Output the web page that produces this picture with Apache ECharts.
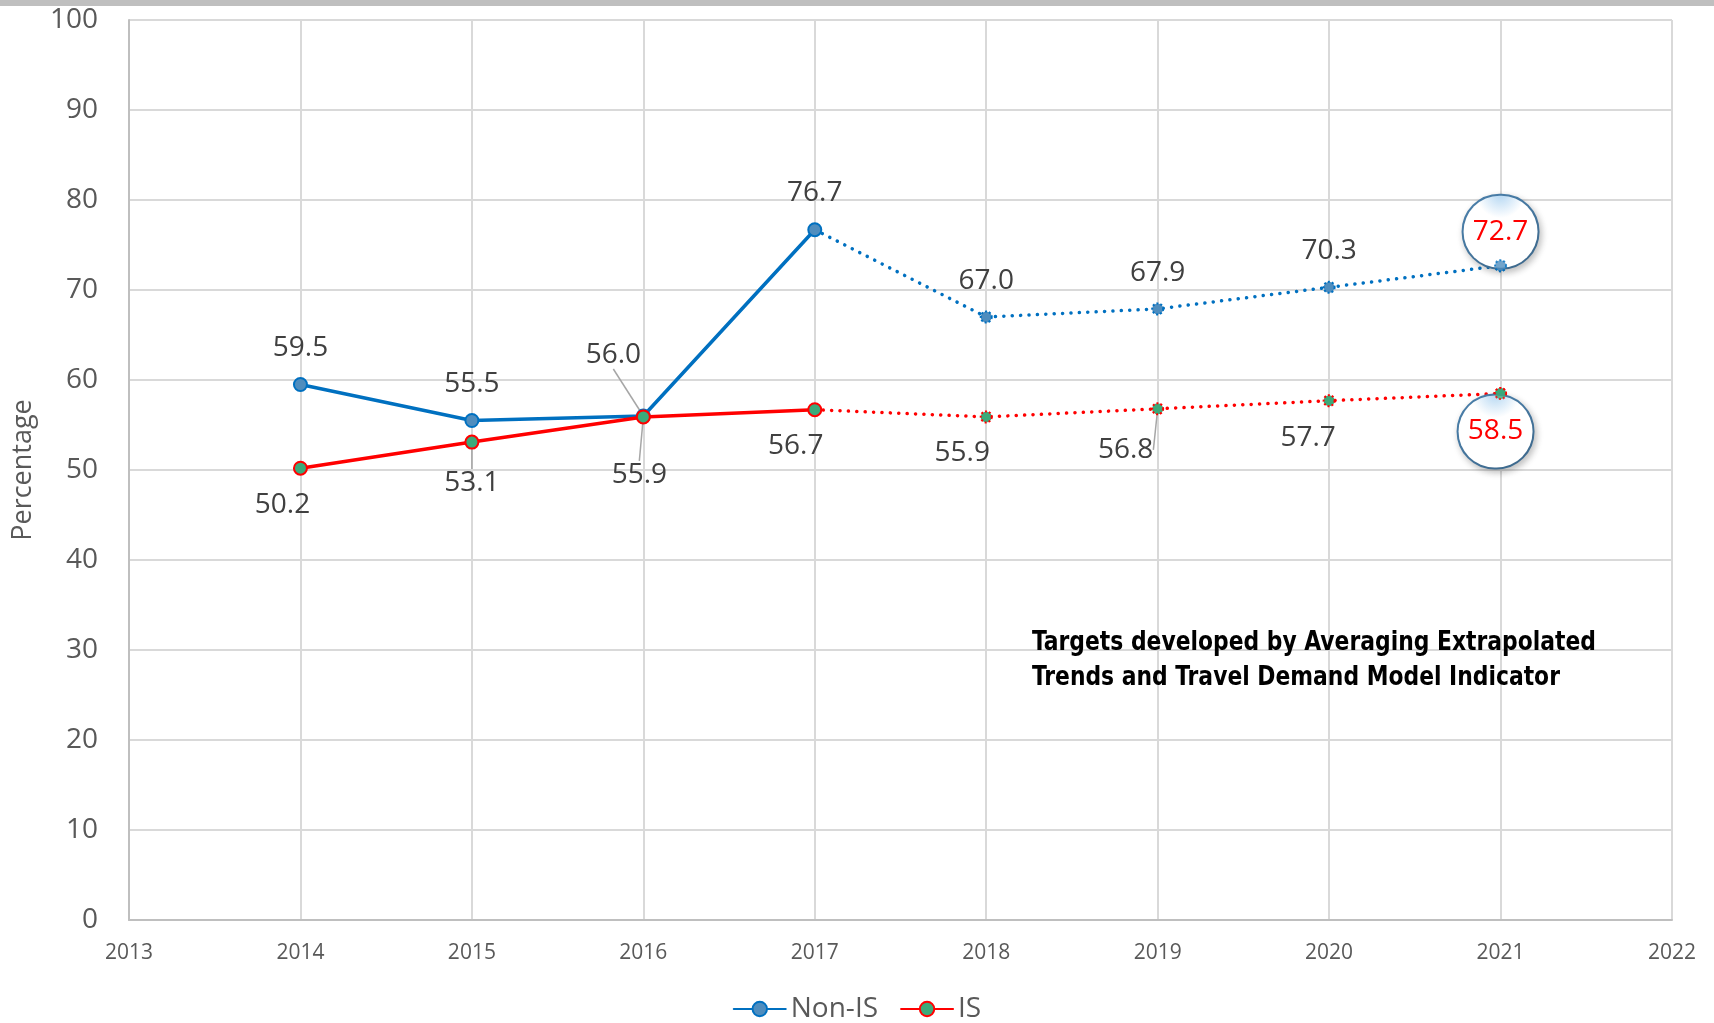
<!DOCTYPE html>
<html><head><meta charset="utf-8">
<script src="https://cdn.jsdelivr.net/npm/echarts@6/dist/echarts.min.js"></script>
<style>html,body{margin:0;padding:0;background:#fff}#c{width:1714px;height:1023px}</style>
</head><body><div id="c"></div>
<script>
// ---- data ----
const years = [2014, 2015, 2016, 2017, 2018, 2019, 2020, 2021];
const nonIS = [59.5, 55.5, 56.0, 76.7, 67.0, 67.9, 70.3, 72.7];
const isVals = [50.2, 53.1, 55.9, 56.7, 55.9, 56.8, 57.7, 58.5];
const lastActualYear = 2017;
const xRange = [2013, 2022];
const yRange = [0, 100];
const seriesNames = ['Non-IS', 'IS'];
const annotationLines = ['Targets developed by Averaging Extrapolated', 'Trends and Travel Demand Model Indicator'];

// ---- styles ----
const FONT = "'Open Sans', sans-serif";
const blue = '#0070C0', red = '#FF0000';
const blueFill = '#4F8DBE', greenFill = '#3CAA7A';
// label offsets [dx, dy] relative to the point, and leader-line flags
const nonISLabel = [[0,-36],[0,-36],[-30,-61],[0,-37],[0,-36],[0,-36],[0,-36],[0,-34]];
const isLabel = [[-18,37],[0,41],[-4,58],[-19,36],[-24,36],[-32,41],[-21,37],[-5,38]];
const nonISLeader = [false,false,true,false,false,false,false,false];
const isLeader = [false,true,true,false,false,true,false,false];
const nonISCirclePad = [0, 0, 12, 0];
const isCirclePad = [0, 0, 0, 0];

const circleBg = new echarts.graphic.RadialGradient(0.5, 0.0, 0.8, [
  {offset: 0, color: '#b3d6f2'}, {offset: 0.4, color: '#ffffff'}, {offset: 1, color: '#ffffff'}
]);

function buildItems(vals, offsets, leaders, projected, fill, border, circlePad) {
  const out = [];
  years.forEach((y, i) => {
    const isProj = y > lastActualYear;
    if (projected ? y < lastActualYear : isProj) return;
    const item = { value: [y, vals[i]] };
    if (projected && y === lastActualYear) {
      item.symbol = 'none';
      item.label = { show: false };
      out.push(item);
      return;
    }
    const isLast = i === years.length - 1;
    item.label = {
      show: true, position: 'inside', offset: offsets[i],
      formatter: vals[i].toFixed(1),
      color: isLast ? '#FF0000' : '#404040', fontSize: 28, fontFamily: FONT,
      align: 'center', verticalAlign: 'middle'
    };
    if (isLast) {
      const h = 72 - circlePad[0] - circlePad[2];
      Object.assign(item.label, {
        width: 74, height: h, lineHeight: h, borderRadius: 37, padding: circlePad,
        borderColor: '#4A7FAA', borderWidth: 2, backgroundColor: circleBg,
        shadowBlur: 7, shadowColor: 'rgba(0,0,0,0.22)', shadowOffsetX: 2, shadowOffsetY: 3
      });
    }
    if (leaders[i]) {
      item.labelLine = { show: true, lineStyle: { color: '#A6A6A6', width: 1.5 } };
    }
    if (projected) {
      item.itemStyle = { color: fill, borderColor: border, borderWidth: 2, borderType: 'dotted' };
      item.symbolSize = 11;
    }
    out.push(item);
  });
  return out;
}

function makeSeries(name, vals, offsets, leaders, lineColor, fill, projected, circlePad) {
  return {
    name: projected ? name + ' (target)' : name,
    type: 'line',
    data: buildItems(vals, offsets, leaders, projected, fill, lineColor, circlePad),
    symbol: 'circle', symbolSize: 13,
    showAllSymbol: true,
    lineStyle: { color: lineColor, width: 3.5, type: projected ? [0.1, 8.3] : 'solid', cap: 'round' },
    itemStyle: { color: fill, borderColor: lineColor, borderWidth: 2 },
    emphasis: { disabled: true },
    z: name === 'IS' ? 4 : 3
  };
}

// final target markers drawn above the circled labels
function lastMarker(name, vals, lineColor, fill) {
  const i = years.length - 1;
  return {
    name: name + ' (final)', type: 'scatter', z: 20,
    data: [[years[i], vals[i]]],
    symbol: 'circle', symbolSize: 11,
    itemStyle: { color: fill, borderColor: lineColor, borderWidth: 2, borderType: 'dotted' },
    emphasis: { disabled: true }, silent: true
  };
}

const chart = echarts.init(document.getElementById('c'), null, { renderer: 'canvas' });
chart.setOption({
  animation: false,
  backgroundColor: '#ffffff',
  grid: { left: 129, right: 42, top: 20, bottom: 103, containLabel: false },
  xAxis: {
    type: 'value', min: xRange[0], max: xRange[1], interval: 1,
    axisLine: { show: true, lineStyle: { color: '#BFBFBF', width: 2 } },
    axisTick: { show: false },
    axisLabel: { color: '#595959', fontSize: 21, fontFamily: FONT, margin: 23, formatter: v => String(v) },
    splitLine: { show: true, lineStyle: { color: '#D9D9D9', width: 2 } }
  },
  yAxis: {
    type: 'value', min: yRange[0], max: yRange[1], interval: 10,
    name: 'Percentage', nameLocation: 'middle', nameGap: 92, nameRotate: 90,
    nameTextStyle: { color: '#595959', fontSize: 27, fontFamily: FONT },
    axisLine: { show: true, lineStyle: { color: '#BFBFBF', width: 2 } },
    axisTick: { show: false },
    axisLabel: { color: '#595959', fontSize: 28, fontFamily: FONT, margin: 31 },
    splitLine: { show: true, lineStyle: { color: '#D9D9D9', width: 2 } }
  },
  legend: {
    data: seriesNames, top: 990, left: 'center',
    itemWidth: 52, itemHeight: 18, itemGap: 22,
    textStyle: { color: '#595959', fontSize: 28, fontFamily: FONT }
  },
  graphic: [
    { type: 'rect', left: 0, top: 0, shape: { width: 1714, height: 6 }, style: { fill: '#BFBFBF' }, z: 10 },
    { type: 'text', x: 1032, y: 626, scaleX: 0.935, z: 10,
      style: { text: annotationLines.join('\n'), fill: '#000000', font: "bold 26px 'DejaVu Sans Condensed', 'Liberation Sans Narrow', sans-serif", lineHeight: 35 } }
  ],
  series: [
    makeSeries(seriesNames[0], nonIS, nonISLabel, nonISLeader, blue, blueFill, false, nonISCirclePad),
    makeSeries(seriesNames[0], nonIS, nonISLabel, nonISLeader, blue, blueFill, true, nonISCirclePad),
    makeSeries(seriesNames[1], isVals, isLabel, isLeader, red, greenFill, false, isCirclePad),
    makeSeries(seriesNames[1], isVals, isLabel, isLeader, red, greenFill, true, isCirclePad),
    lastMarker(seriesNames[0], nonIS, blue, blueFill),
    lastMarker(seriesNames[1], isVals, red, greenFill)
  ]
});
</script></body></html>
